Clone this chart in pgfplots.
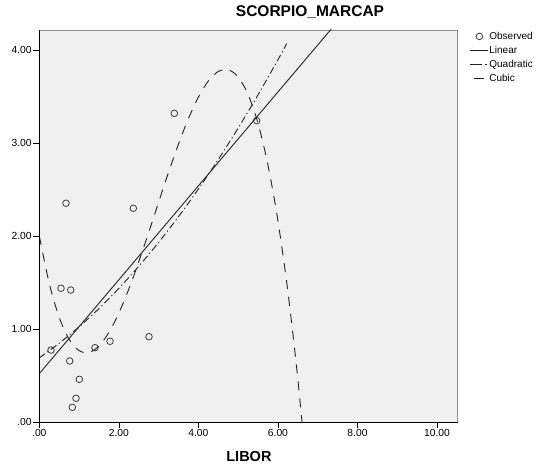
\documentclass[border=0pt]{standalone}
\usepackage{pgfplots}
\pgfplotsset{compat=1.18}
\usepackage{fontspec}
\setmainfont{Liberation Sans}
\definecolor{plotbg}{HTML}{F0F0F0}
\definecolor{framegray}{HTML}{8C8C8C}
\definecolor{linecol}{HTML}{222222}
\definecolor{obscol}{HTML}{3A3A3A}

\begin{document}
\begin{tikzpicture}
\useasboundingbox (0,0) rectangle (536bp,465bp);
\begin{axis}[
  at={(39.3bp,43bp)}, anchor=south west,
  scale only axis, width=418.4bp, height=392bp,
  xmin=0, xmax=10.52, ymin=0, ymax=4.215,
  axis background/.style={fill=plotbg},
  axis line style={draw=framegray, line width=0.8pt},
  xtick={0,2,4,6,8,10}, xticklabels={.00,2.00,4.00,6.00,8.00,10.00},
  ytick={0,1,2,3,4}, yticklabels={.00,1.00,2.00,3.00,4.00},
  tick align=outside, xtick pos=left, ytick pos=left,
  major tick length=6bp,
  tick style={black, line width=0.6pt},
  ticklabel style={font=\fontsize{10.3bp}{12bp}\selectfont, inner sep=1.5bp},
  title={\textbf{SCORPIO\_MARCAP}},
  title style={font=\fontsize{15.5bp}{18bp}\selectfont, at={(axis description cs:0.647,1.0306)}, anchor=center},
  xlabel={\textbf{LIBOR}},
  xlabel style={font=\fontsize{14.5bp}{17bp}\selectfont, at={(axis description cs:0.501,-0.089)}, anchor=center},
  clip mode=individual,
  legend style={at={(axis description cs:1.0294,0.997)}, anchor=north west, draw=none, fill=none,
    inner sep=0pt, outer sep=0pt, row sep=3.5bp, font=\fontsize{10bp}{12bp}\selectfont,
    nodes={inner sep=0.5bp, text height=7.5bp, text depth=2bp}},
  legend cell align=left,
  legend image code/.code={\draw[#1] (0bp,0bp) -- (18bp,0bp);},
]
\addplot[only marks, mark=o, mark size=3.3bp, draw=obscol, mark options={line width=0.8pt},
  legend image code/.code={\draw[obscol, solid, line width=0.8pt] (9bp,0bp) circle (3.3bp);}]
  table {
x y
0.671 2.352
2.364 2.298
0.546 1.438
0.790 1.419
2.758 0.917
1.778 0.868
1.400 0.799
0.294 0.774
0.764 0.656
1.006 0.459
0.923 0.255
0.830 0.158
3.395 3.319
5.466 3.240
};
\addlegendentry{Observed}
\addplot[linecol, line width=0.9pt] coordinates {(0,0.52) (10.52,5.83)};
\addlegendentry{Linear}
\addplot[linecol, line width=0.9pt, smooth, dash pattern=on 7bp off 3bp on 1.2bp off 3bp,
  legend image code/.code={\draw[linecol, solid, line width=0.9pt] (0bp,0bp) -- (12bp,0bp);
    \draw[linecol, solid, line width=0.9pt] (15bp,0bp) -- (16.5bp,0bp);}] coordinates {
(0,0.69) (0.5,0.847) (1,1.023) (1.5,1.220) (2,1.437) (2.5,1.674) (3,1.931) (3.5,2.208)
(4,2.505) (4.5,2.823) (5,3.160) (5.5,3.518) (6,3.895) (6.22,4.068)};
\addlegendentry{Quadratic}
\addplot[linecol, line width=0.9pt, smooth, dash pattern=on 9bp off 8bp,
  legend image code/.code={\draw[linecol, solid, line width=0.9pt] (4bp,0bp) -- (14bp,0bp);
    \path[draw=none] (0bp,0bp) -- (18bp,0bp);}] coordinates {
(0,2.000) (0.249,1.493) (0.498,1.128) (0.747,0.891) (0.996,0.768) (1.245,0.747)
(1.494,0.815) (1.743,0.958) (1.992,1.164) (2.241,1.419) (2.49,1.710) (2.739,2.024)
(2.988,2.348) (3.237,2.669) (3.486,2.973) (3.735,3.248) (3.984,3.480) (4.233,3.657)
(4.482,3.764) (4.731,3.790) (4.98,3.720) (5.229,3.542) (5.478,3.243) (5.727,2.808)
(5.976,2.228) (6.225,1.486) (6.474,0.570) (6.723,-0.527)};
\addlegendentry{Cubic}
\draw[black, line width=0.8pt] (rel axis cs:0,1) -- (rel axis cs:0,0) -- (rel axis cs:1,0);
\end{axis}
\end{tikzpicture}
\end{document}
